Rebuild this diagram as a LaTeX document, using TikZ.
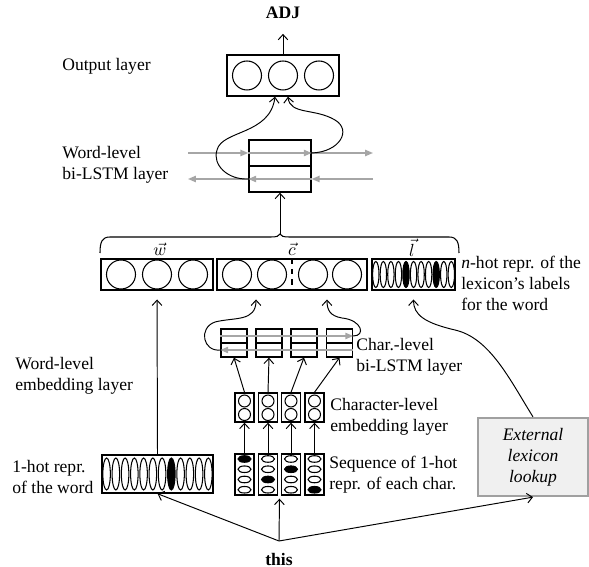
\documentclass[tikz,border=0pt]{standalone}
\usepackage{fontspec}
\setmainfont{Liberation Serif}
\usetikzlibrary{arrows.meta,calc}
\definecolor{lstmGrey}{HTML}{A6A6A6}
\definecolor{lexFill}{HTML}{F0F0F0}
\definecolor{lexEdge}{HTML}{A0A0A0}

\begin{document}
\begin{tikzpicture}[
  x=0.02cm, y=-0.02cm,
  >={Straight Barb[length=3pt,width=5.5pt]},
  font=\fontsize{10pt}{12pt}\selectfont,
  box/.style   ={draw, line width=0.8pt, inner sep=0pt},
  ring/.style  ={draw, line width=0.6pt},
  flow/.style  ={->, line width=0.55pt},
  gapped/.style={shorten >=5pt},
  gate/.style  ={-{Triangle[length=4.5pt,width=3.6pt]}, draw=lstmGrey, line width=0.9pt},
  note/.style  ={inner sep=0pt, align=left, anchor=west},
  lexbox/.style={draw=lexEdge, fill=lexFill, line width=1.3pt, align=center, inner sep=0pt,
                 font=\fontsize{10pt}{12pt}\selectfont\itshape},
]
% pixel grid of the reference: x to the right, y downwards
\useasboundingbox (0,0) rectangle (589,567);

% ============================================================ OUTPUT
\node[font=\bfseries] (adj) at (283,13) {ADJ};
\node[box, minimum width=2.24cm, minimum height=0.82cm] (out) at (283,75.5) {};
\foreach \cx in {247,283,319} \draw[ring] (\cx,75.5) circle[radius=0.29cm];
\draw[flow, shorten >=5pt] (out.north) -- (adj.south);

% ============================================================ WORD-LEVEL BI-LSTM
\node[box, minimum width=1.24cm, minimum height=0.52cm] (wf) at (280,153) {};
\node[box, minimum width=1.24cm, minimum height=0.52cm] (wb) at (280,179) {};
\coordinate (wfin) at (188,153);  \coordinate (wfout) at (373,153);
\coordinate (wbin) at (373,179);  \coordinate (wbout) at (188,179);
\draw[gate] (wfin) -- (wf.west);
\draw[gate] (wf.west) -- (wf.east);
\draw[gate] (wf.east) -- (wfout);
\draw[gate] (wbin) -- (wb.east);
\draw[gate] (wb.east) -- (wb.west);
\draw[gate] (wb.west) -- (wbout);

\draw[flow] (wf.east) .. controls (340,152) and (352,130) .. (335,120)
  .. controls (315,108) and (290,115) .. ([xshift=0.1cm]out.south);
\draw[flow] (wb.west) .. controls (228,180) and (212,165) .. (217,150)
  .. controls (222,130) and (270,135) .. ([xshift=-0.16cm]out.south);

% ============================================================ CONCATENATED VECTOR
% the brace is drawn by hand: its arms sit high, so the labels fit beneath them
\coordinate (brL) at (100,253);  \coordinate (brR) at (459,253);
\coordinate (brtip) at (280,234);
\draw[line width=0.6pt] (brL) .. controls (100,242) and (102,237) .. (110,237) -- (271,237)
  .. controls (277,237) and (279,236) .. (brtip) .. controls (281,236) and (283,237) .. (289,237)
  -- (449,237) .. controls (457,237) and (459,242) .. (brR);
\draw[flow] (brtip) -- (wb.south);

\node[box, minimum width=2.24cm, minimum height=0.62cm] (wvec) at (157,274.5) {};
\node[box, minimum width=3.00cm, minimum height=0.62cm] (cvec) at (292,274.5) {};
\node[box, minimum width=1.66cm, minimum height=0.62cm] (lvec) at (413.5,274.5) {};
\node[inner sep=0.5pt] (wlab) at (160,249) {$\vec{w}$};
\node[inner sep=0.5pt] (clab) at (292,249) {$\vec{c}$};
\node[inner sep=0.5pt] (llab) at (412,248) {$\vec{l}$};

\foreach \cx in {121,157,193} \draw[ring] (\cx,274.5) circle[radius=0.29cm];
\foreach \cx in {237,272,313,347} \draw[ring] (\cx,274.5) circle[radius=0.29cm];
\draw[dashed, line width=0.6pt] (cvec.north) -- (cvec.south);
\foreach \i in {0,...,10}
  \draw[ring] (375.8+\i*7.55,274.5) ellipse[x radius=0.064cm, y radius=0.26cm];
\foreach \i in {4,8}
  \fill (375.8+\i*7.55,274.5) ellipse[x radius=0.064cm, y radius=0.26cm];

% ============================================================ WORD EMBEDDING
\node[box, minimum width=2.22cm, minimum height=0.76cm] (wone) at (157.5,474) {};
\foreach \i in {0,...,11}
  \draw[ring] (106.6+\i*9.25,474) ellipse[x radius=0.075cm, y radius=0.32cm];
\fill (106.6+7*9.25,474) ellipse[x radius=0.075cm, y radius=0.32cm];
\draw[flow, gapped] (wone.north) -- (wvec.south);

% ============================================================ CHARACTER STACKS
\foreach \k/\cx/\lx/\hot in {1/244.5/234/1, 2/268/269/3, 3/291/304/2, 4/314.5/339.5/4} {
  \node[box, minimum width=0.38cm, minimum height=0.82cm] (co\k) at (\cx,474.5) {};
  \foreach \j in {1,...,4}
    \draw[ring] (\cx,459+\j*10.25-10.25) ellipse[x radius=0.13cm, y radius=0.066cm];
  \fill (\cx,459+\hot*10.25-10.25) ellipse[x radius=0.13cm, y radius=0.066cm];
  \node[box, minimum width=0.38cm, minimum height=0.58cm] (ce\k) at (\cx,407.5) {};
  \draw[ring] (\cx,401) circle[radius=0.12cm];
  \draw[ring] (\cx,414.5) circle[radius=0.12cm];
  \node[box, minimum width=0.52cm, minimum height=0.28cm] (cf\k) at (\lx,336) {};
  \node[box, minimum width=0.52cm, minimum height=0.28cm] (cb\k) at (\lx,350) {};
  \draw[flow] (co\k.north) -- (ce\k.south);
  \draw[flow] (ce\k.north) -- (cb\k.south);
}
\draw[gate] (cf1.west) -- (cf4.east);
\draw[gate] (cb4.east) -- (cb1.west);

\draw[flow, gapped] (cb1.west) .. controls (203,352) and (198,328) .. (215,322)
  .. controls (235,317) and (256,322) .. ([xshift=-0.72cm]cvec.south);
\draw[flow, gapped] (cf4.east) .. controls (366,336) and (362,320) .. (342,318)
  .. controls (330,316) and (327,310) .. ([xshift=0.7cm]cvec.south);

% ============================================================ LEXICON
\node[lexbox, minimum width=2.2cm, minimum height=1.56cm] (lex) at (533,457)
  {External\\lexicon\\lookup};
\draw[flow, gapped] (lex.north) .. controls (510,380) and (490,338) .. (455,330)
  .. controls (425,323) and (413.5,315) .. (lvec.south);

% ============================================================ INPUT WORD
\node[font=\bfseries] (this) at (279,559) {this};
\coordinate (hub) at (279,541);
\draw[flow] (hub) -- (wone.south);
\draw[flow] (hub) -- ($(co2.south)!0.5!(co3.south)+(0,3)$);
\draw[flow] (hub) -- (lex.south);

% ============================================================ LABELS
\node[note] (outtxt)   at (62,66)   {Output layer};
\node[note] (wlstmtxt) at (62,165)  {Word-level\\bi-LSTM layer};
\node[note] (wembtxt)  at (15,376)  {Word-level\\embedding layer};
\node[note] (wonetxt)  at (12,477)  {1-hot repr.\\of the word};
\node[note] (clstmtxt) at (356,357) {Char.-level\\bi-LSTM layer};
\node[note] (cembtxt)  at (330,417) {Character-level\\embedding layer};
\node[note] (conetxt)  at (329,475) {Sequence of 1-hot\\repr. of each char.};
\node[note] (lvectxt)  at (461,283) {\textit{n}-hot repr. of the\\lexicon's labels\\for the word};

\end{tikzpicture}
\end{document}
